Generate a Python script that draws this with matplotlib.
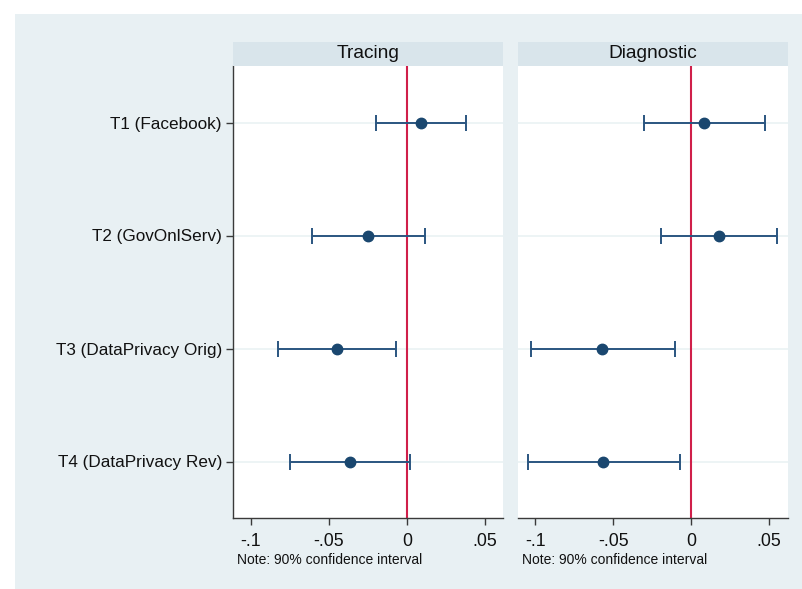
import matplotlib
matplotlib.use("Agg")
import matplotlib.pyplot as plt
from matplotlib.patches import Rectangle

categories = ["T1 (Facebook)", "T2 (GovOnlServ)", "T3 (DataPrivacy Orig)", "T4 (DataPrivacy Rev)"]
panels = ["Tracing", "Diagnostic"]

tracing_est = [0.0088, -0.0248, -0.0451, -0.0365]
tracing_lo = [-0.0199, -0.0611, -0.0825, -0.0750]
tracing_hi = [0.0378, 0.0113, -0.0073, 0.0019]

diag_est = [0.0085, 0.0178, -0.0572, -0.0566]
diag_lo = [-0.0303, -0.0196, -0.1027, -0.1046]
diag_hi = [0.0472, 0.0551, -0.0105, -0.0072]

xticks = [-0.1, -0.05, 0, 0.05]
xticklabels = ["-.1", "-.05", "0", ".05"]
note = "Note: 90% confidence interval"

plt.rcParams['font.family'] = ['Liberation Sans', 'DejaVu Sans']

W, H = 802, 589
fig = plt.figure(figsize=(W / 100, H / 100), dpi=100, facecolor="white")

bg = "#E8F0F3"
strip_c = "#D9E5EB"
navy = "#1A476F"
bar_c = "#2A5580"
red = "#D01F4A"
grid_c = "#EAF2F3"

fig.patches.append(Rectangle((15 / W, 0), 1 - 15 / W, 1 - 14 / H, transform=fig.transFigure,
                             facecolor=bg, edgecolor="none", zorder=-10))

def fx(px):
    return px / W

def fy(py):
    return 1 - py / H

panel_px = [(233, 503, -0.1115, 0.0615), (518, 788, -0.1111, 0.0622)]
data = [(tracing_est, tracing_lo, tracing_hi), (diag_est, diag_lo, diag_hi)]
top, bot, strip_top = 66, 518, 42

ypos = list(range(1, len(categories) + 1))

for i, ((x0, x1, xl, xr), (est, lo, hi)) in enumerate(zip(panel_px, data)):
    ax = fig.add_axes([fx(x0), fy(bot), fx(x1 - x0), (bot - top) / H])
    ax.set_facecolor("white")
    ax.set_xlim(xl, xr)
    ax.set_ylim(4.5, 0.5)
    for y in ypos:
        ax.axhline(y, color=grid_c, lw=1.2, zorder=1)
    ax.axvline(0, color=red, lw=1.5, zorder=2)
    xerr = [[e - l for e, l in zip(est, lo)], [h - e for e, h in zip(est, hi)]]
    ax.errorbar(est, ypos, xerr=xerr, fmt="o", color=navy, ecolor=bar_c, elinewidth=1.4,
                capsize=5.5, capthick=1.4, markersize=7.5, zorder=3)
    for s in ["top", "right"]:
        ax.spines[s].set_visible(False)
    ax.spines["bottom"].set_color("#3a3a3a")
    ax.spines["bottom"].set_linewidth(1.0)
    ax.set_xticks(xticks)
    ax.set_xticklabels(xticklabels, fontsize=12.8, color="#111111")
    ax.tick_params(axis="x", direction="out", length=5, width=1, color="#3a3a3a", pad=6)
    if i == 0:
        ax.spines["left"].set_color("#3a3a3a")
        ax.spines["left"].set_linewidth(1.0)
        ax.set_yticks(ypos)
        ax.set_yticklabels(categories, fontsize=12.3, color="#111111")
        ax.tick_params(axis="y", direction="out", length=5, width=1, color="#3a3a3a", pad=3)
    else:
        ax.spines["left"].set_visible(False)
        ax.set_yticks([])
    ax.text(fx(x0 + 4), fy(560), note, transform=fig.transFigure, fontsize=10,
            ha="left", va="center", color="#111111")

    sax = fig.add_axes([fx(x0), fy(top), fx(x1 - x0), (top - strip_top) / H])
    sax.set_facecolor(strip_c)
    sax.set_xticks([])
    sax.set_yticks([])
    for s in sax.spines.values():
        s.set_visible(False)
    sax.text(0.5, 0.5, panels[i], transform=sax.transAxes, ha="center", va="center",
             fontsize=13.8, color="#111111")

fig.savefig("out.png", dpi=100, facecolor="white")
